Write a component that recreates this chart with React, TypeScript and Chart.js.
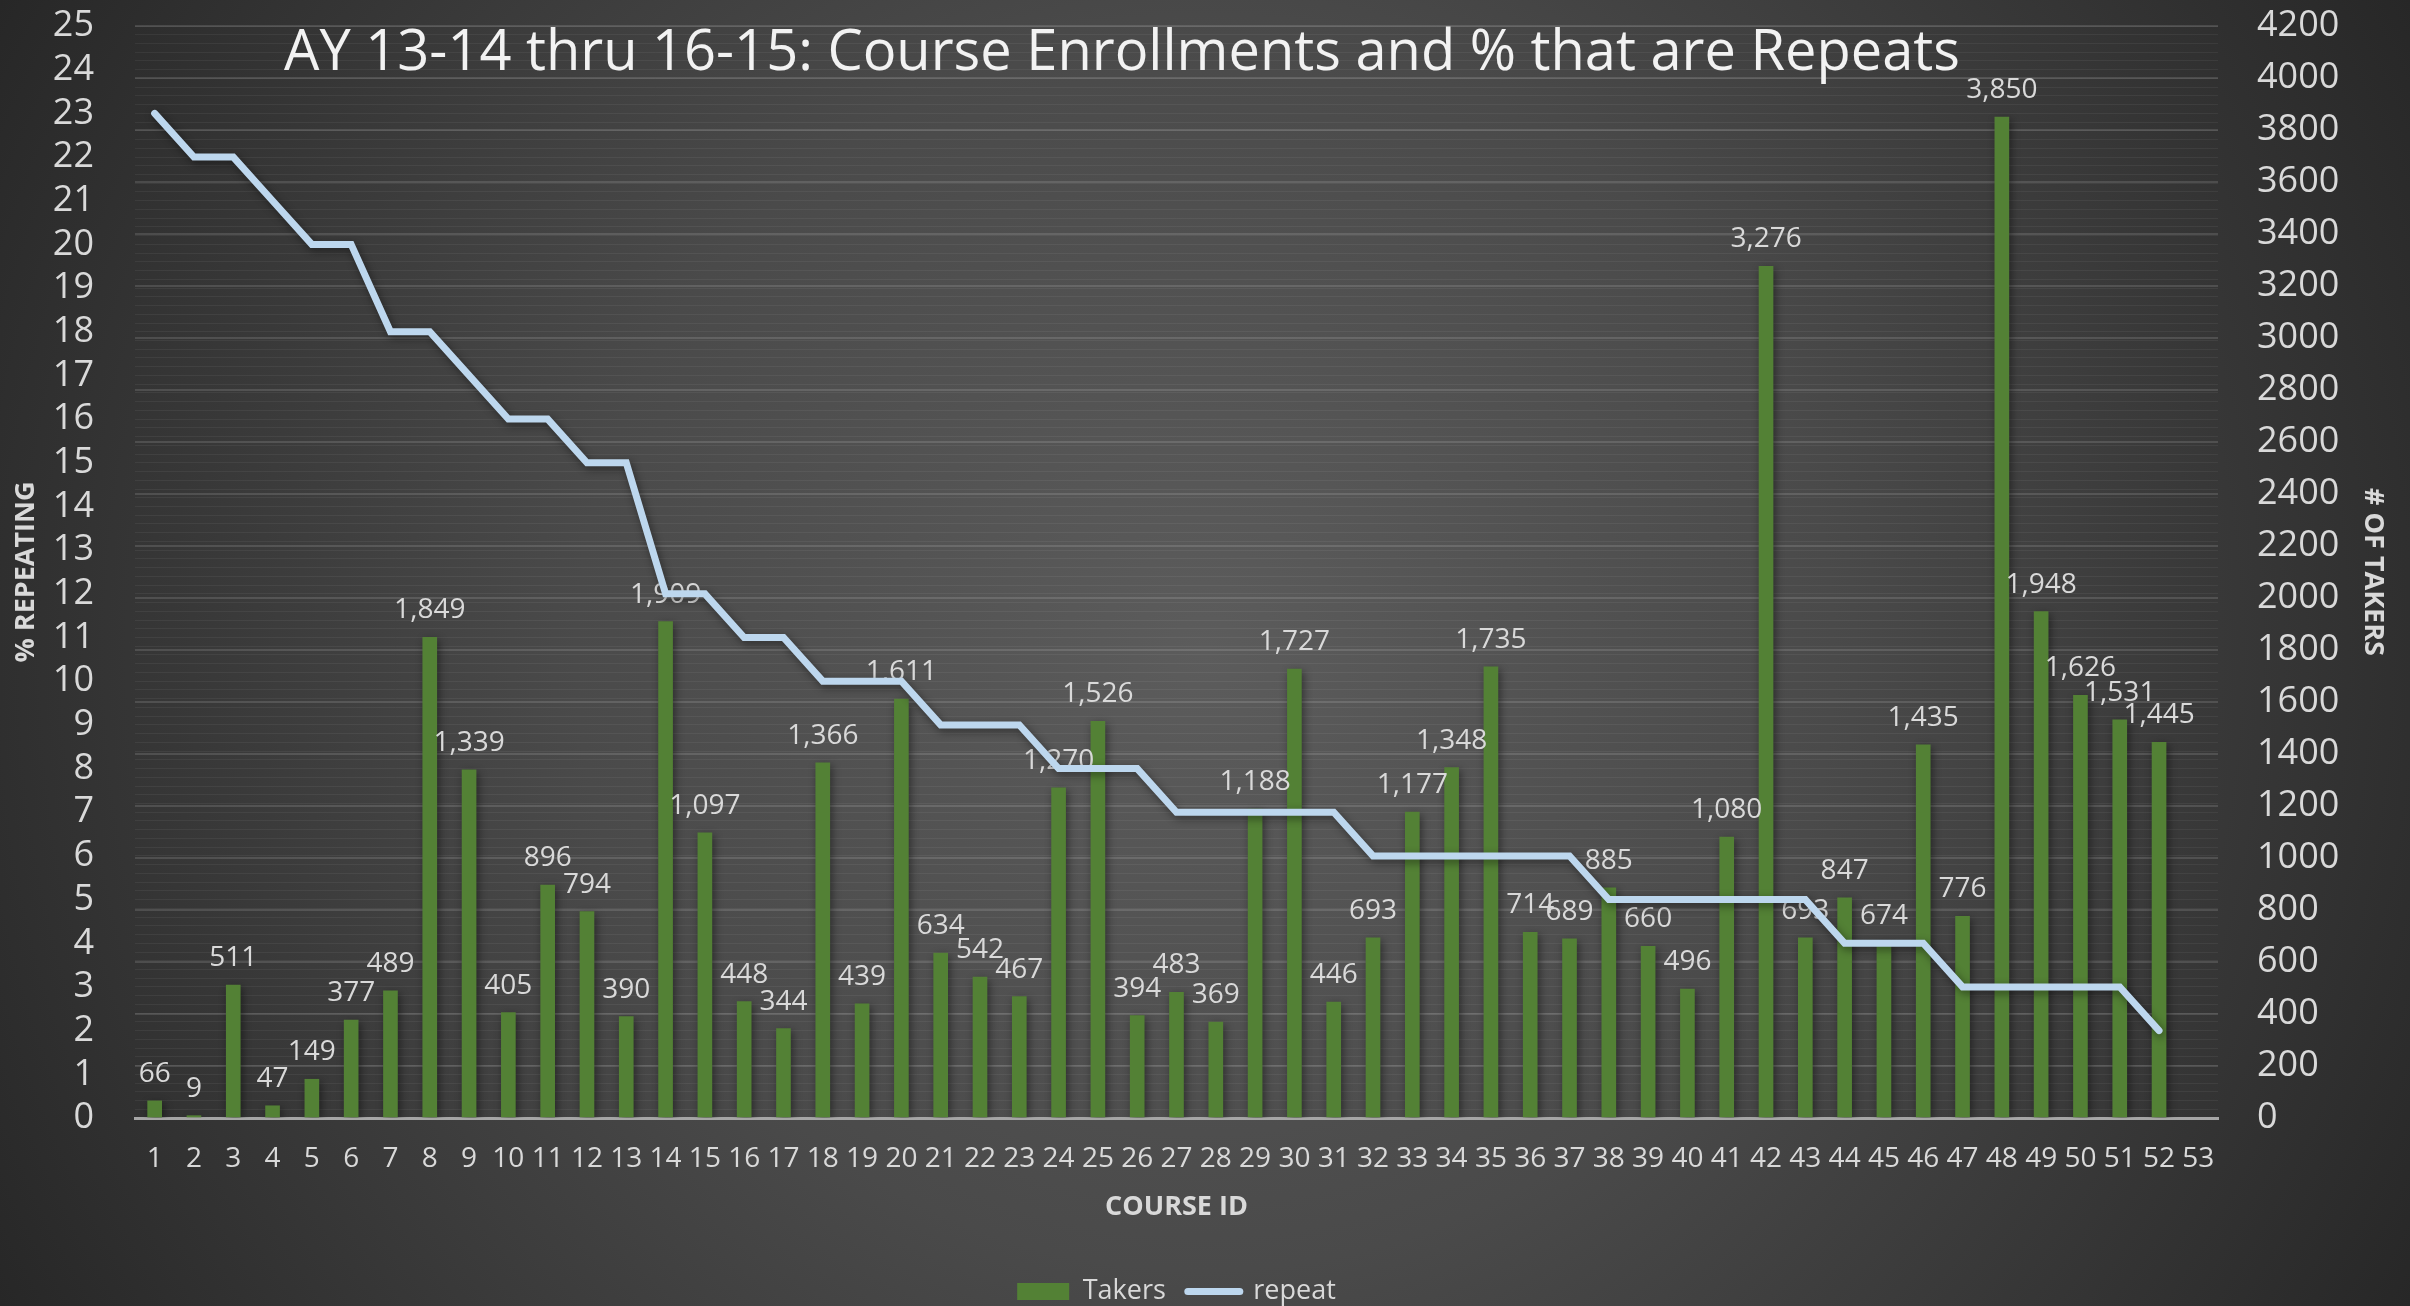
import React, { useEffect, useRef } from 'react';
import { Chart, registerables } from 'chart.js';

Chart.register(...registerables);

const chartTitle = 'AY 13-14 thru 16-15: Course Enrollments and % that are Repeats';

const courseIds = [
  '1', '2', '3', '4', '5', '6', '7', '8', '9', '10',
  '11', '12', '13', '14', '15', '16', '17', '18', '19', '20',
  '21', '22', '23', '24', '25', '26', '27', '28', '29', '30',
  '31', '32', '33', '34', '35', '36', '37', '38', '39', '40',
  '41', '42', '43', '44', '45', '46', '47', '48', '49', '50',
  '51', '52', '53',
];

const takers = [
  66, 9, 511, 47, 149, 377, 489, 1849, 1339, 405,
  896, 794, 390, 1909, 1097, 448, 344, 1366, 439, 1611,
  634, 542, 467, 1270, 1526, 394, 483, 369, 1188, 1727,
  446, 693, 1177, 1348, 1735, 714, 689, 885, 660, 496,
  1080, 3276, 693, 847, 674, 1435, 776, 3850, 1948, 1626,
  1531, 1445, null,
];

const repeatPct = [
  23, 22, 22, 21, 20, 20, 18, 18, 17, 16,
  16, 15, 15, 12, 12, 11, 11, 10, 10, 10,
  9, 9, 9, 8, 8, 8, 7, 7, 7, 7,
  7, 6, 6, 6, 6, 6, 6, 5, 5, 5,
  5, 5, 5, 4, 4, 4, 3, 3, 3, 3,
  3, 2, null,
];

const FONT = '"Open Sans", "DejaVu Sans", sans-serif';
const TEXT = '#d9d9d9';

const shadowAndLabels = {
  id: 'shadowAndLabels',
  beforeDatasetDraw(chart: any) {
    const ctx = chart.ctx;
    ctx.save();
    ctx.shadowColor = 'rgba(0,0,0,0.45)';
    ctx.shadowBlur = 8;
    ctx.shadowOffsetX = 2;
    ctx.shadowOffsetY = 3;
  },
  afterDatasetDraw(chart: any, args: any) {
    const ctx = chart.ctx;
    ctx.restore();
    if (args.index !== 0) return;
    ctx.save();
    ctx.font = `28px ${FONT}`;
    ctx.fillStyle = TEXT;
    ctx.textAlign = 'center';
    ctx.textBaseline = 'alphabetic';
    args.meta.data.forEach((el: any, i: number) => {
      const v = takers[i];
      if (v == null) return;
      ctx.fillText(v.toLocaleString('en-US'), el.x, el.y - 19);
    });
    ctx.restore();
  },
};

const titlePlugin = {
  id: 'customTitle',
  afterDraw(chart: any) {
    const ctx = chart.ctx;
    ctx.save();
    ctx.font = `56px ${FONT}`;
    ctx.fillStyle = '#f2f2f2';
    ctx.textAlign = 'center';
    ctx.textBaseline = 'alphabetic';
    ctx.fillText(chartTitle, 1122, 70);
    ctx.restore();
  },
};

const fixVertical = (width: number) => (s: any) => {
  s.width = width;
  s.paddingTop = 20;
  s.paddingBottom = 20;
};

export default function App() {
  const ref = useRef<HTMLCanvasElement>(null);

  useEffect(() => {
    document.body.style.margin = '0';
    const chart = new Chart(ref.current as HTMLCanvasElement, {
      type: 'bar',
      data: {
        labels: courseIds,
        datasets: [
          {
            type: 'bar',
            label: 'Takers',
            data: takers,
            yAxisID: 'y1',
            backgroundColor: '#538135',
            borderWidth: 0,
            barThickness: 14,
            order: 1,
          } as any,
          {
            type: 'line',
            label: 'repeat',
            data: repeatPct,
            yAxisID: 'y',
            borderColor: '#bdd7ee',
            backgroundColor: '#bdd7ee',
            borderWidth: 7,
            pointRadius: 0,
            pointHoverRadius: 0,
            pointBorderWidth: 7,
            tension: 0,
            borderJoinStyle: 'miter',
            borderCapStyle: 'round',
            order: 0,
          } as any,
        ],
      },
      options: {
        responsive: false,
        devicePixelRatio: 1,
        animation: false,
        layout: { padding: { top: 26, left: 0, right: 0, bottom: -9 } },
        plugins: {
          title: { display: false },
          tooltip: { enabled: false },
          legend: {
            display: true,
            position: 'bottom',
            fullSize: false,
            labels: {
              color: TEXT,
              font: { size: 27, family: FONT },
              usePointStyle: true,
              pointStyleWidth: 52,
              boxHeight: 17,
              padding: 22,
              sort: (a: any, b: any) => a.datasetIndex - b.datasetIndex,
              generateLabels: (c: any) => {
                const items = (Chart as any).defaults.plugins.legend.labels.generateLabels(c);
                items.forEach((it: any) => {
                  if (it.datasetIndex === 0) {
                    it.pointStyle = 'rect';
                    it.lineWidth = 0;
                  } else {
                    it.pointStyle = 'line';
                    it.lineWidth = 7;
                    it.lineCap = 'round';
                    it.strokeStyle = '#bdd7ee';
                  }
                });
                return items;
              },
            },
          },
        },
        scales: {
          x: {
            offset: true,
            grid: { display: false, drawTicks: false },
            border: { display: true, color: '#a6a6a6', width: 3 },
            ticks: {
              color: TEXT,
              font: { size: 28, family: FONT },
              padding: 24,
              maxRotation: 0,
              autoSkip: false,
            },
            title: {
              display: true,
              text: 'COURSE ID',
              color: TEXT,
              font: { size: 27, family: FONT, weight: 'bold' },
              padding: { top: 0, bottom: 32 },
            },
            afterFit: (s: any) => { s.height = 138; },
          },
          y: {
            position: 'left',
            min: 0,
            max: 25,
            grid: { color: 'rgba(255,255,255,0.055)', lineWidth: 1, drawTicks: false },
            border: { display: false },
            ticks: {
              stepSize: 0.2,
              maxTicksLimit: 200,
              autoSkip: false,
              color: TEXT,
              font: { size: 36, family: FONT },
              padding: 41,
              callback: (v: any) => (Math.abs(v - Math.round(v)) < 1e-6 ? String(Math.round(v)) : ''),
            },
            title: {
              display: true,
              text: '% REPEATING',
              color: TEXT,
              font: { size: 27, family: FONT, weight: 'bold' },
              padding: { top: 10, bottom: 0 },
            },
            afterFit: fixVertical(135),
          },
          y1: {
            position: 'right',
            min: 0,
            max: 4200,
            grid: { color: 'rgba(255,255,255,0.13)', lineWidth: 2, drawTicks: false },
            border: { display: false },
            ticks: {
              stepSize: 200,
              autoSkip: false,
              color: TEXT,
              font: { size: 36, family: FONT },
              padding: 39,
              callback: (v: any) => String(v),
            },
            title: {
              display: true,
              text: '# OF TAKERS',
              color: TEXT,
              font: { size: 27, family: FONT, weight: 'bold' },
              padding: { top: 21, bottom: 0 },
            },
            afterFit: fixVertical(192),
          },
        },
      } as any,
      plugins: [shadowAndLabels, titlePlugin],
    });
    return () => chart.destroy();
  }, []);

  return (
    <div
      style={{
        width: 2410,
        height: 1306,
        background: 'radial-gradient(ellipse 58% 105% at 50% 50%, #5c5c5c 0%, #4a4a4a 45%, #262626 100%)',
      }}
    >
      <canvas ref={ref} width={2410} height={1306} style={{ display: 'block' }} />
    </div>
  );
}
